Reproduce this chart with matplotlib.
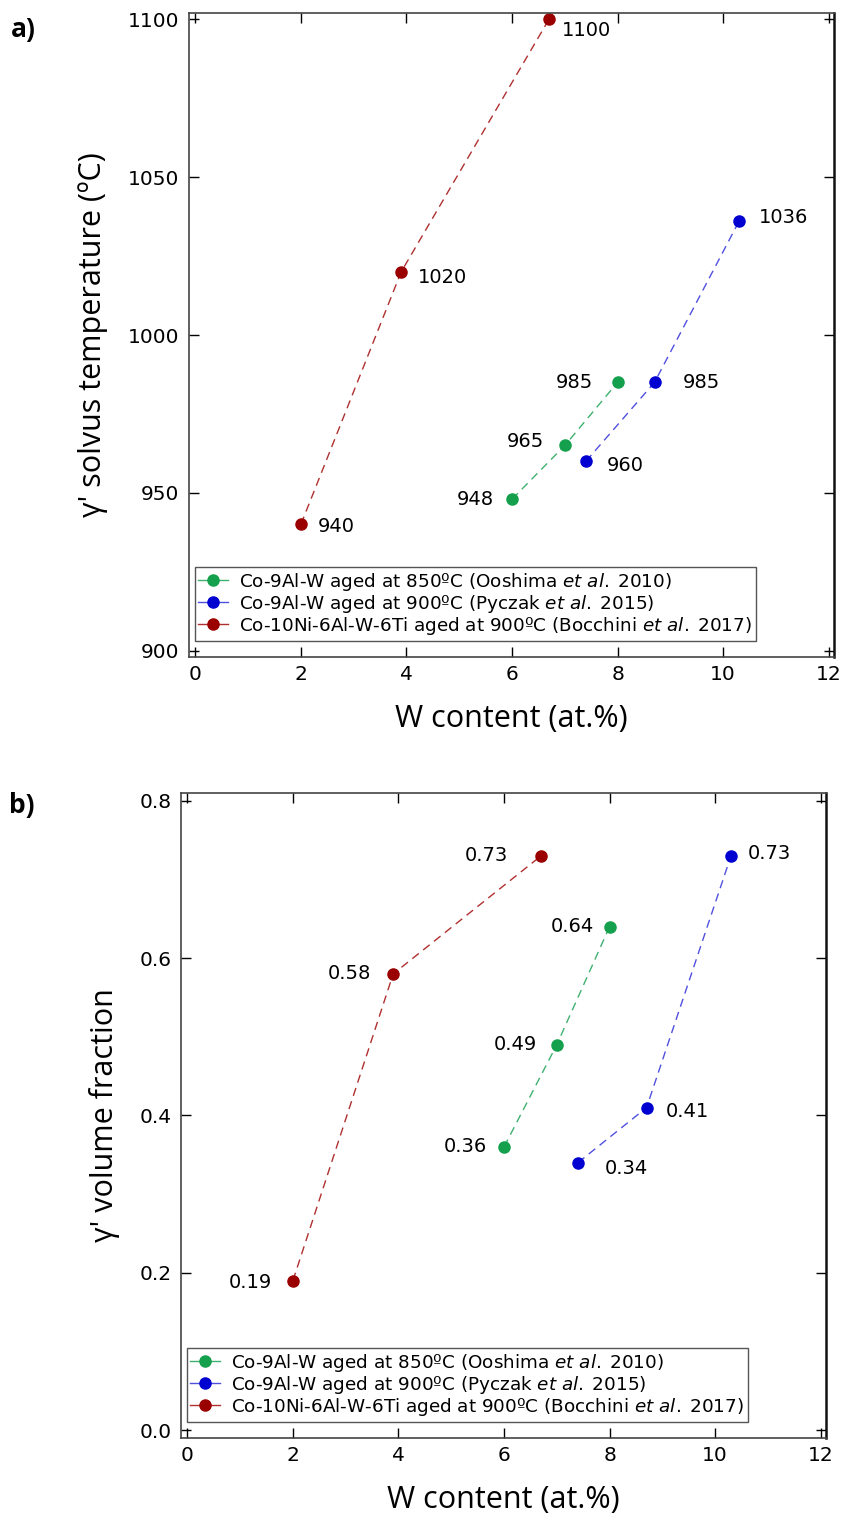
import matplotlib
matplotlib.use("Agg")
import matplotlib.pyplot as plt
from matplotlib.lines import Line2D

# W content (at.%)
w_ooshima = [6, 7, 8]
w_pyczak = [7.4, 8.7, 10.3]
w_bocchini = [2, 3.9, 6.7]

# gamma' solvus temperature (C)
t_ooshima = [948, 965, 985]
t_pyczak = [960, 985, 1036]
t_bocchini = [940, 1020, 1100]

# gamma' volume fraction
f_ooshima = [0.36, 0.49, 0.64]
f_pyczak = [0.34, 0.41, 0.73]
f_bocchini = [0.19, 0.58, 0.73]

labels = [r"Co-9Al-W aged at 850ºC (Ooshima $\mathit{et\ al.}\;$2010)",
          r"Co-9Al-W aged at 900ºC (Pyczak $\mathit{et\ al.}\;$2015)",
          r"Co-10Ni-6Al-W-6Ti aged at 900ºC (Bocchini $\mathit{et\ al.}\;$2017)"]
colors = ["#14a04c", "#0000d0", "#9a0000"]
line_colors = ["#40b070", "#5050e0", "#b03030"]

plt.rcParams["font.family"] = "DejaVu Sans"
plt.rcParams["mathtext.fontset"] = "dejavusans"

fig = plt.figure(figsize=(8.41, 15.24), dpi=100)
ax1 = fig.add_axes([189 / 841, 1 - 657 / 1524, 645 / 841, 644 / 1524])
ax2 = fig.add_axes([181 / 841, 1 - 1438 / 1524, 645 / 841, 645 / 1524])

# annotation offsets (points); negative x -> label to the left of the point
off_a = [[(-13, 0), (-15, 3), (-18, 0)],
         [(15, -3), (20, 0), (14, 3)],
         [(12, -1.5), (12, -4), (9.5, -8)]]
off_b = [[(-12, 0), (-14, 0), (-11, 0)],
         [(19, -4), (14, -3), (12, 2)],
         [(-15, -1), (-16, 0), (-24, 0)]]

def draw(ax, ys, offs, fmt):
    xs = [w_ooshima, w_pyczak, w_bocchini]
    for i in range(3):
        ax.plot(xs[i], ys[i], linestyle=(0, (6, 4)), color=line_colors[i], lw=1.0,
                marker="o", markersize=8, markerfacecolor=colors[i],
                markeredgecolor=colors[i])
        for j in range(3):
            dx, dy = offs[i][j]
            ax.annotate(fmt(ys[i][j]), (xs[i][j], ys[i][j]), xytext=(dx, dy),
                        textcoords="offset points", fontsize=14, va="center",
                        ha="left" if dx > 0 else "right")
    ax.set_xlim(-0.12, 12.1)
    ax.set_xticks(range(0, 13, 2))
    ax.tick_params(direction="in", which="both", top=True, right=True,
                   labelsize=14.5, length=7, width=1)
    ax.tick_params(axis="x", pad=6)
    ax.tick_params(axis="y", pad=7)
    for s in ax.spines.values():
        s.set_linewidth(1.2)
        s.set_color("#444444")
    ax.spines["right"].set_color("#111111")
    ax.spines["right"].set_linewidth(1.8)
    ax.set_xlabel("W content (at.%)", fontsize=22, family="Open Sans", labelpad=14)
    handles = [Line2D([], [], color=line_colors[i], lw=1.0, marker="o", markersize=8,
                      markerfacecolor=colors[i], markeredgecolor=colors[i])
               for i in range(3)]
    leg = ax.legend(handles, labels, loc="lower left", fontsize=13.2, handlelength=1.6,
                    handletextpad=0.65, borderpad=0.2, labelspacing=0.0,
                    fancybox=False, framealpha=1, edgecolor="#555555",
                    borderaxespad=0.3, bbox_to_anchor=(0, 0.017))
    leg.get_frame().set_linewidth(1.0)

draw(ax1, [t_ooshima, t_pyczak, t_bocchini], off_a, lambda v: f"{v:d}")
ax1.set_ylim(898, 1102)
ax1.set_yticks(range(900, 1101, 50))
ax1.set_ylabel("γ' solvus temperature (ºC)", fontsize=22, family="Open Sans", labelpad=14)

draw(ax2, [f_ooshima, f_pyczak, f_bocchini], off_b, lambda v: f"{v:.2f}")
ax2.set_ylim(-0.01, 0.81)
ax2.set_yticks([0.0, 0.2, 0.4, 0.6, 0.8])
ax2.set_yticklabels(["0.0", "0.2", "0.4", "0.6", "0.8"])
ax2.set_ylabel("γ' volume fraction", fontsize=22, family="Open Sans", labelpad=14)

fig.text(11 / 841, 1 - 30 / 1524, "a)", fontsize=19, fontweight="bold",
         family="Open Sans", va="center")
fig.text(9 / 841, 1 - 806 / 1524, "b)", fontsize=19, fontweight="bold",
         family="Open Sans", va="center")

fig.savefig("out.png", dpi=100)
